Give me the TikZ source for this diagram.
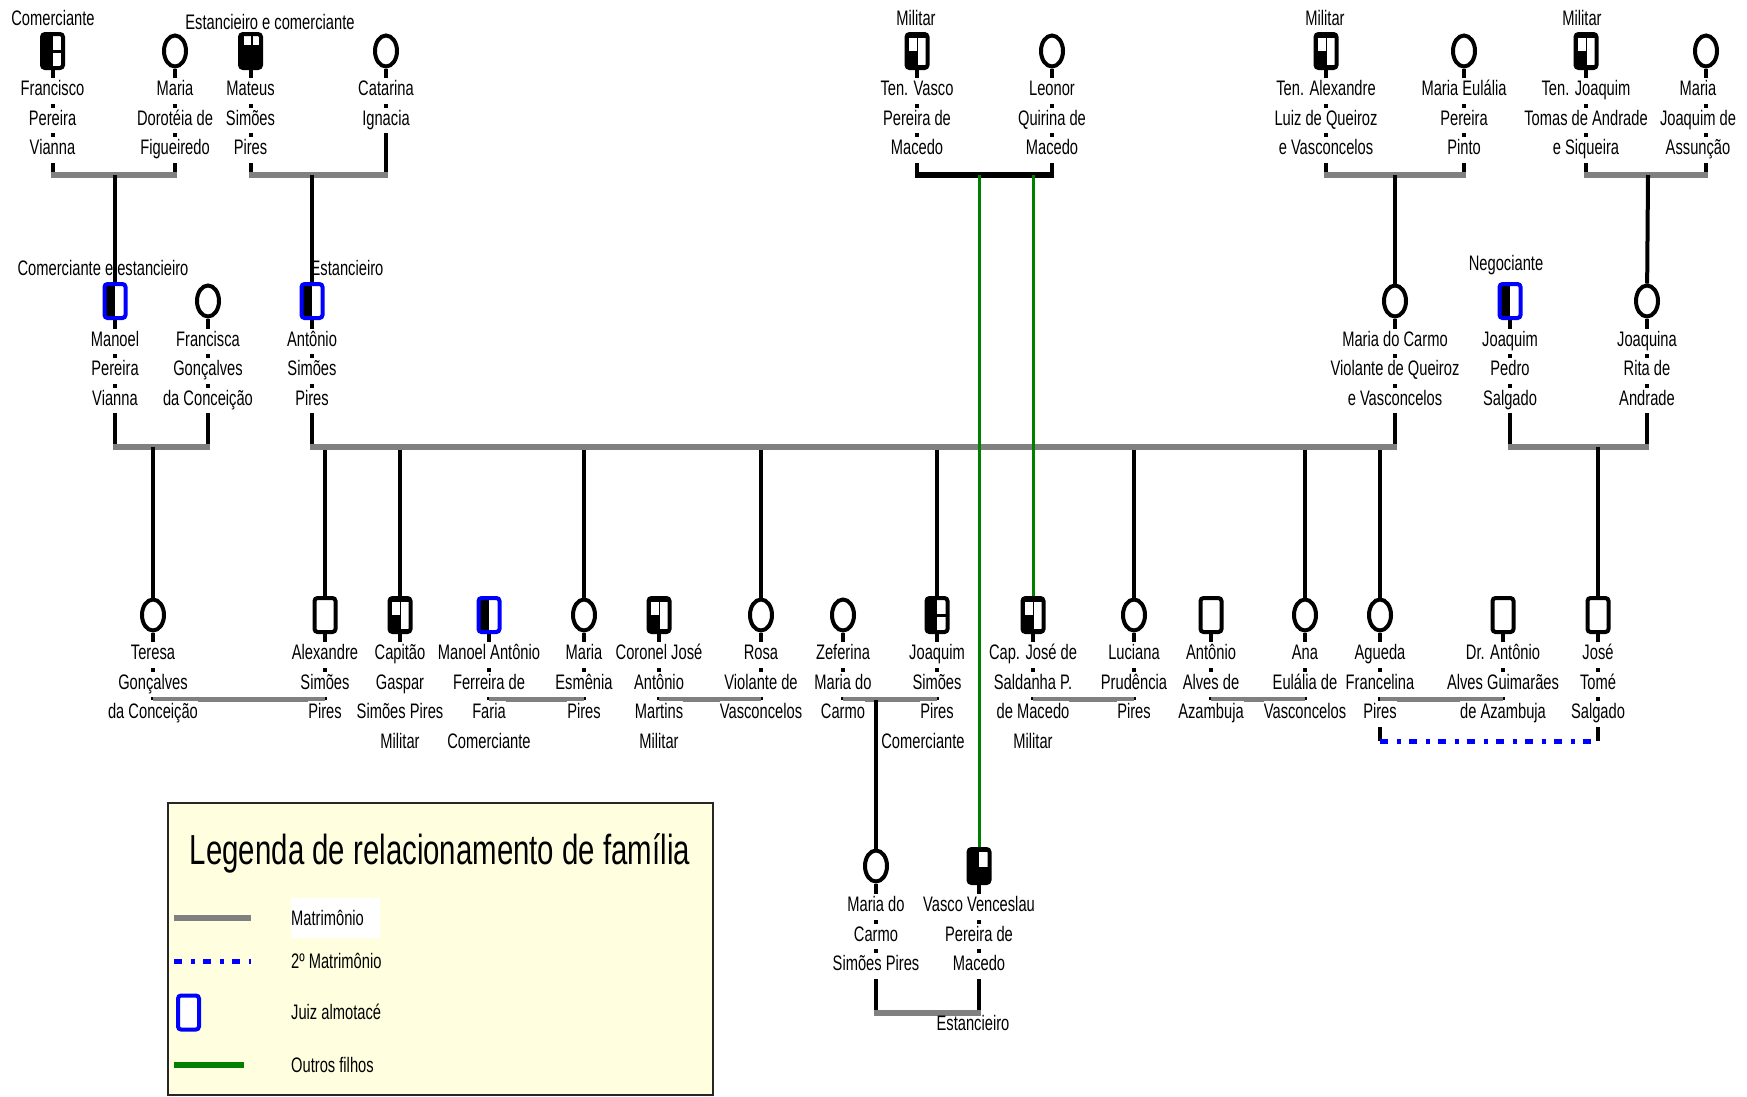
\documentclass[tikz,border=0pt]{standalone}
\usepackage{fontspec}
\setmainfont{Liberation Sans}[FakeStretch=0.70]
\usetikzlibrary{shapes.geometric}
\pgfdeclarelayer{back}
\pgfdeclarelayer{lines}
\pgfsetlayers{back,lines,main}
\definecolor{mgray}{RGB}{128,128,128}
\definecolor{mblue}{RGB}{0,0,255}
\definecolor{mgreen}{RGB}{0,128,0}
\definecolor{legbg}{RGB}{255,255,224}
\newcommand\myfs{\fontsize{21}{29.5}\selectfont}
\newcommand\wl[1]{{\setlength{\fboxsep}{0pt}\colorbox{white}{\rule[-8pt]{0pt}{25.5pt}#1}}}
\newcommand\wc[4]{\fill[white,sharp corners] ([shift={(#1,#2)}]path picture bounding box.center) rectangle ([shift={(#3,#4)}]path picture bounding box.center);}
\newcommand\bc[4]{\fill[black,sharp corners] ([shift={(#1,#2)}]path picture bounding box.center) rectangle ([shift={(#3,#4)}]path picture bounding box.center);}
\tikzset{
  vl/.style={line width=4pt},
  mar/.style={line width=6pt, mgray, shorten <=-2pt, shorten >=-2pt},
  mar3/.style={line width=5.5pt, mgray},
  blk/.style={line width=6pt, black, shorten <=-2pt, shorten >=-2pt},
  grn/.style={line width=3pt, mgreen},
  dottwo/.style={line width=5pt, mblue, dash pattern=on 8pt off 8.5pt on 4pt off 8.5pt},
  box/.style={rectangle, draw, line width=4pt, rounded corners=3pt, minimum width=21pt, minimum height=34pt, inner sep=0pt},
  plain/.style={box, fill=white},
  fem/.style={ellipse, draw, line width=4pt, minimum width=22pt, minimum height=31pt, inner sep=0pt, fill=white},
  patA/.style={box, fill=black, path picture={\wc{0}{-15}{9}{-1.5}\wc{0}{1.5}{9}{15}}},
  patB/.style={box, fill=black, path picture={\wc{-7}{-16}{0}{-6}\wc{2}{-16}{9}{-6}}},
  patC/.style={box, fill=black, path picture={\wc{-8}{-13}{-0.5}{-0.5}\wc{1}{-13}{8.5}{14}}},
  patD/.style={box, fill=black, path picture={\wc{0.3}{-13.7}{8.7}{0.7}}},
  patE/.style={box, draw=mblue, fill=white, path picture={\bc{-15}{-25}{0}{25}}},
  ptxt/.style={anchor=north, align=center, inner sep=0pt, font=\myfs},
  occ/.style={inner sep=0pt, font=\myfs},
  lg/.style={anchor=west, inner sep=0pt, font=\myfs},
}
\begin{document}
\begin{tikzpicture}[x=1pt,y=-1pt]
\useasboundingbox (0,0) rectangle (1747,1096);

% ---------- legend box ----------
\begin{pgfonlayer}{back}
\draw[line width=1.5pt, draw=black!85, fill=legbg] (168,803) rectangle (713,1095);
\end{pgfonlayer}

% ---------- row 1 ----------
\node[patA] (fr) at (52.5,51) {};
\node[fem]  (mdf) at (175,51) {};
\node[patB] (mat) at (250.5,51) {};
\node[fem]  (cat) at (386,51) {};
\node[patC] (tv) at (917,51) {};
\node[fem]  (leo) at (1052,51) {};
\node[patC] (ta) at (1326,51) {};
\node[fem]  (me) at (1464,51) {};
\node[patC] (tj) at (1586,51) {};
\node[fem]  (mj) at (1706,51) {};

\node[ptxt] (fr-t) at (52.5,78) {\wl{Francisco}\\\wl{Pereira}\\\wl{Vianna}};
\node[ptxt] (mdf-t) at (175,78) {\wl{Maria}\\\wl{Dorotéia de}\\\wl{Figueiredo}};
\node[ptxt] (mat-t) at (250.5,78) {\wl{Mateus}\\\wl{Simões}\\\wl{Pires}};
\node[ptxt] (cat-t) at (386,78) {\wl{Catarina}\\\wl{Ignacia}};
\node[ptxt] (tv-t) at (917,78) {\wl{Ten. Vasco}\\\wl{Pereira de}\\\wl{Macedo}};
\node[ptxt] (leo-t) at (1052,78) {\wl{Leonor}\\\wl{Quirina de}\\\wl{Macedo}};
\node[ptxt] (ta-t) at (1326,78) {\wl{Ten. Alexandre}\\\wl{Luiz de Queiroz}\\\wl{e Vasconcelos}};
\node[ptxt] (me-t) at (1464,78) {\wl{Maria Eulália}\\\wl{Pereira}\\\wl{Pinto}};
\node[ptxt] (tj-t) at (1586,78) {\wl{Ten. Joaquim}\\\wl{Tomas de Andrade}\\\wl{e Siqueira}};
\node[ptxt] (mj-t) at (1698,78) {\wl{Maria}\\\wl{Joaquim de}\\\wl{Assunção}};

\node[occ] (o1) at (53,18) {Comerciante};
\node[occ] (o2) at (270,22) {Estancieiro e comerciante};
\node[occ] (o3) at (916,18) {Militar};
\node[occ] (o4) at (1325,18) {Militar};
\node[occ] (o5) at (1582,18) {Militar};

% ---------- row 2 ----------
\node[patE] (man) at (115,301) {};
\node[fem]  (fra) at (208,301) {};
\node[patE] (ant) at (312,301) {};
\node[fem]  (mc) at (1395,301) {};
\node[patE] (jp) at (1510,301) {};
\node[fem]  (jna) at (1647,301) {};

\node[ptxt] (man-t) at (115,328.5) {\wl{Manoel}\\\wl{Pereira}\\\wl{Vianna}};
\node[ptxt] (fra-t) at (208,328.5) {\wl{Francisca}\\\wl{Gonçalves}\\\wl{da Conceição}};
\node[ptxt] (ant-t) at (312,328.5) {\wl{Antônio}\\\wl{Simões}\\\wl{Pires}};
\node[ptxt] (mc-t) at (1395,328.5) {\wl{Maria do Carmo}\\\wl{Violante de Queiroz}\\\wl{e Vasconcelos}};
\node[ptxt] (jp-t) at (1510,328.5) {\wl{Joaquim}\\\wl{Pedro}\\\wl{Salgado}};
\node[ptxt] (jna-t) at (1647,328.5) {\wl{Joaquina}\\\wl{Rita de}\\\wl{Andrade}};

\node[occ] (o6) at (103,268) {Comerciante e estancieiro};
\node[occ] (o7) at (347,268) {Estancieiro};
\node[occ] (o8) at (1506,265) {Negociante};

% ---------- row 3 ----------
\node[fem]   (ter) at (153,615) {};
\node[plain] (alx) at (325,615) {};
\node[patC]  (cap) at (400,615) {};
\node[patE]  (mant) at (489,615) {};
\node[fem]   (mes) at (584,615) {};
\node[patC]  (cor) at (659,615) {};
\node[fem]   (ros) at (761,615) {};
\node[fem]   (zef) at (843,615) {};
\node[patA]  (jsp) at (937,615) {};
\node[patC]  (cjs) at (1033,615) {};
\node[fem]   (luc) at (1134,615) {};
\node[plain] (aaa) at (1211,615) {};
\node[fem]   (ana) at (1305,615) {};
\node[fem]   (agu) at (1380,615) {};
\node[plain] (dra) at (1503,615) {};
\node[plain] (jtm) at (1598,615) {};

\node[ptxt] (ter-t) at (153,642) {\wl{Teresa}\\\wl{Gonçalves}\\\wl{da Conceição}};
\node[ptxt] (alx-t) at (325,642) {\wl{Alexandre}\\\wl{Simões}\\\wl{Pires}};
\node[ptxt] (cap-t) at (400,642) {\wl{Capitão}\\\wl{Gaspar}\\\wl{Simões Pires}\\\wl{Militar}};
\node[ptxt] (mant-t) at (489,642) {\wl{Manoel Antônio}\\\wl{Ferreira de}\\\wl{Faria}\\\wl{Comerciante}};
\node[ptxt] (mes-t) at (584,642) {\wl{Maria}\\\wl{Esmênia}\\\wl{Pires}};
\node[ptxt] (cor-t) at (659,642) {\wl{Coronel José}\\\wl{Antônio}\\\wl{Martins}\\\wl{Militar}};
\node[ptxt] (ros-t) at (761,642) {\wl{Rosa}\\\wl{Violante de}\\\wl{Vasconcelos}};
\node[ptxt] (zef-t) at (843,642) {\wl{Zeferina}\\\wl{Maria do}\\\wl{Carmo}};
\node[ptxt] (jsp-t) at (937,642) {\wl{Joaquim}\\\wl{Simões}\\\wl{Pires}\\\wl{Comerciante}\rule{28pt}{0pt}};
\node[ptxt] (cjs-t) at (1033,642) {\wl{Cap. José de}\\\wl{Saldanha P.}\\\wl{de Macedo}\\\wl{Militar}};
\node[ptxt] (luc-t) at (1134,642) {\wl{Luciana}\\\wl{Prudência}\\\wl{Pires}};
\node[ptxt] (aaa-t) at (1211,642) {\wl{Antônio}\\\wl{Alves de}\\\wl{Azambuja}};
\node[ptxt] (ana-t) at (1305,642) {\wl{Ana}\\\wl{Eulália de}\\\wl{Vasconcelos}};
\node[ptxt] (agu-t) at (1380,642) {\wl{Agueda}\\\wl{Francelina}\\\wl{Pires}};
\node[ptxt] (dra-t) at (1503,642) {\wl{Dr. Antônio}\\\wl{Alves Guimarães}\\\wl{de Azambuja}};
\node[ptxt] (jtm-t) at (1598,642) {\wl{José}\\\wl{Tomé}\\\wl{Salgado}};

% ---------- row 4 ----------
\node[fem]  (mcs) at (876,866) {};
\node[patD] (vvp) at (979,866) {};
\node[ptxt] (mcs-t) at (876,894) {\wl{Maria do}\\\wl{Carmo}\\\wl{Simões Pires}};
\node[ptxt] (vvp-t) at (979,894) {\wl{Vasco Venceslau}\\\wl{Pereira de}\\\wl{Macedo}};

% ---------- connectors ----------
\coordinate (c1) at (115,175);
\coordinate (c2) at (312,175);
\coordinate (c3a) at (979,175);
\coordinate (c3b) at (1033,175);
\coordinate (c4) at (1395,175);
\coordinate (c5) at (1648,175);
\coordinate (d1) at (153,447);
\coordinate (mb) at (312,447);
\coordinate (d3) at (1598,447);
\coordinate (r3) at (0,699.5);
\coordinate (r3d) at (0,741);
\coordinate (zj) at (876,699.5);
\coordinate (r4) at (0,1013);

\begin{pgfonlayer}{lines}
% row 1 couples
\draw[vl] (fr) -- (fr |- c1);
\draw[vl] (mdf) -- (mdf |- c1);
\draw[mar] (fr |- c1) -- (mdf |- c1);
\draw[vl] (c1) -- (man);
\draw[vl] (mat) -- (mat |- c2);
\draw[vl] (cat) -- (cat |- c2);
\draw[mar] (mat |- c2) -- (cat |- c2);
\draw[vl] (c2) -- (ant);
\draw[vl] (tv) -- (tv |- c3a);
\draw[vl] (leo) -- (leo |- c3a);
\draw[vl] (ta) -- (ta |- c4);
\draw[vl] (me) -- (me |- c4);
\draw[mar] (ta |- c4) -- (me |- c4);
\draw[vl] (c4) -- (mc);
\draw[vl] (tj) -- (tj |- c5);
\draw[vl] (mj) -- (mj |- c5);
\draw[mar] (tj |- c5) -- (mj |- c5);
\draw[vl] (c5) -- (jna);
% row 2 couples
\draw[vl] (man) -- (man |- d1);
\draw[vl] (fra) -- (fra |- d1);
\draw[mar] (man |- d1) -- (fra |- d1);
\draw[vl] (d1) -- (ter);
\draw[vl] (ant) -- (ant |- mb);
\draw[vl] (mc) -- (mc |- mb);
\draw[vl] (alx |- mb) -- (alx);
\draw[vl] (cap |- mb) -- (cap);
\draw[vl] (mes |- mb) -- (mes);
\draw[vl] (ros |- mb) -- (ros);
\draw[vl] (jsp |- mb) -- (jsp);
\draw[vl] (luc |- mb) -- (luc);
\draw[vl] (ana |- mb) -- (ana);
\draw[vl] (agu |- mb) -- (agu);
\draw[mar] (ant |- mb) -- (mc |- mb);
\draw[vl] (jp) -- (jp |- d3);
\draw[vl] (jna) -- (jna |- d3);
\draw[mar] (jp |- d3) -- (jna |- d3);
\draw[vl] (d3) -- (jtm);
% row 3 couples
\draw[vl] (ter) -- (ter |- r3);
\draw[vl] (alx) -- (alx |- r3);
\draw[mar3] (ter |- r3) -- (alx |- r3);
\draw[vl] (cap) -- (cap-t);
\draw[vl] (mant) -- (mant |- r3);
\draw[vl] (mes) -- (mes |- r3);
\draw[mar3] (mant |- r3) -- (mes |- r3);
\draw[vl] (cor) -- (cor |- r3);
\draw[vl] (ros) -- (ros |- r3);
\draw[mar3] (cor |- r3) -- (ros |- r3);
\draw[vl] (zef) -- (zef |- r3);
\draw[vl] (jsp) -- (jsp |- r3);
\draw[mar3] (zef |- r3) -- (jsp |- r3);
\draw[vl] (zj) -- (mcs);
\draw[vl] (cjs) -- (cjs |- r3);
\draw[vl] (luc) -- (luc |- r3);
\draw[mar3] (cjs |- r3) -- (luc |- r3);
\draw[vl] (aaa) -- (aaa |- r3);
\draw[vl] (ana) -- (ana |- r3);
\draw[mar3] (aaa |- r3) -- (ana |- r3);
\draw[vl] (agu) -- (agu |- r3d);
\draw[vl] (dra) -- (dra |- r3);
\draw[mar3] (agu |- r3) -- (dra |- r3);
\draw[vl] (jtm) -- (jtm |- r3d);
\draw[dottwo] (agu |- r3d) -- (jtm |- r3d);
% row 4 couple
\draw[vl] (mcs) -- (mcs |- r4);
\draw[vl] (vvp) -- (vvp |- r4);
\draw[mar] (mcs |- r4) -- (vvp |- r4);
% black couple and other children
\draw[blk] (tv |- c3a) -- (leo |- c3a);
\draw[grn] (c3a) -- (vvp);
\draw[grn] (c3b) -- (cjs);
\end{pgfonlayer}

\node[occ] (o9) at (973,1023) {Estancieiro};

% ---------- legend ----------
\node[inner sep=0pt, font=\fontsize{42}{50}\selectfont] (lgt) at (440,853) {Legenda de relacionamento de família};
\coordinate (l1a) at (174,918); \coordinate (l1b) at (251,918);
\coordinate (l2a) at (174,961); \coordinate (l2b) at (251,961);
\coordinate (l4a) at (174,1065); \coordinate (l4b) at (244,1065);
\draw[line width=6pt, mgray] (l1a) -- (l1b);
\draw[dottwo] (l2a) -- (l2b);
\node[box, draw=mblue, fill=white] (ljz) at (188.5,1012.5) {};
\draw[line width=6pt, mgreen] (l4a) -- (l4b);
\node[lg, fill=white, minimum height=40pt] (lt1) at (291,918) {\makebox[89pt][l]{Matrimônio}};
\node[lg] (lt2) at (291,961) {2º Matrimônio};
\node[lg] (lt3) at (291,1012) {Juiz almotacé};
\node[lg] (lt4) at (291,1065) {Outros filhos};
\end{tikzpicture}
\end{document}
